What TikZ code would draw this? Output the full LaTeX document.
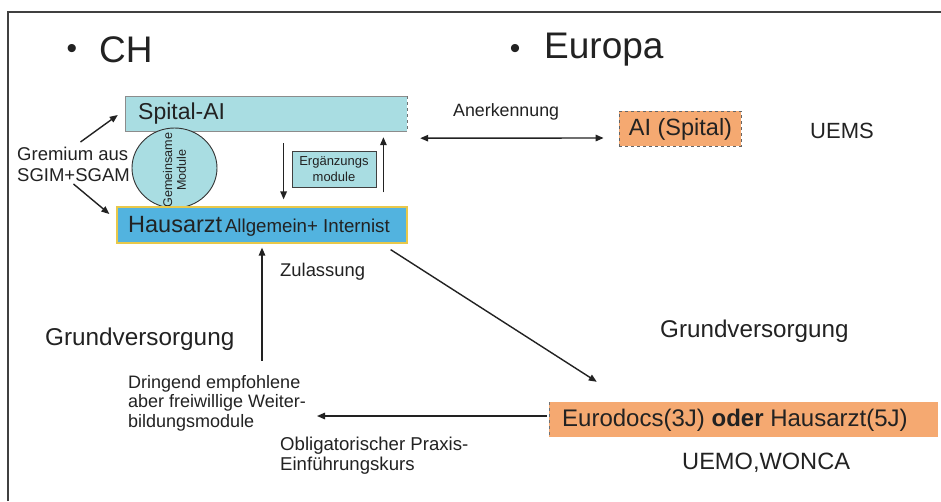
\documentclass[tikz,border=0pt]{standalone}
\usepackage{fontspec}
\setmainfont{Liberation Sans}
\usetikzlibrary{arrows.meta,calc,shapes.geometric}
\definecolor{lcyan}{HTML}{A9DDE2}
\definecolor{mblue}{HTML}{52B3DF}
\definecolor{ybord}{HTML}{E8C84A}
\definecolor{orng}{HTML}{F5A971}
\definecolor{txt}{HTML}{222222}
\newcommand{\fs}[1]{\fontsize{#1}{#1}\selectfont}
\tikzset{
  lbl/.style={inner sep=0pt, text=txt, align=left},
  arr/.style={draw=txt, line width=1.4pt, -{Triangle[length=8pt,width=6.5pt]}},
  dblarr/.style={draw=txt, line width=1.4pt, {Triangle[length=8pt,width=6.5pt]}-{Triangle[length=8pt,width=6.5pt]}},
}
\begin{document}
\begin{tikzpicture}[x=1pt,y=-1pt]
\useasboundingbox (0,0) rectangle (941,501);
\fill[white] (0,0) rectangle (941,501);
% frame
\draw[line width=2pt, draw=black!75] (8,501) -- (8,12) -- (941,12);

% headings
\node[lbl, font=\fs{30}] (b1) at (72,51) {•};
\node[lbl, anchor=west, font=\fs{37}] (ch) at (99,50) {CH};
\node[lbl, font=\fs{30}] (b2) at (515,51) {•};
\node[lbl, anchor=west, font=\fs{37}] (eu) at (544,50) {Europa};

% Spital box
\path[fill=lcyan] (125,96) rectangle (407,131);
\draw[draw=black!45, line width=0.6pt] (407,131) -- (125,131) -- (125,96) -- (407,96);
\draw[draw=black!55, line width=0.8pt, dashed] (407,96) -- (407,131);
\node[draw=none, minimum width=282pt, minimum height=35pt, inner sep=0pt] (spital) at (266,113.5) {};
\node[lbl, anchor=west, font=\fs{23}] (spt) at (138,114) {Spital-AI};

% ellipse
\node[ellipse, draw=black!80, fill=lcyan, line width=0.9pt, minimum width=85pt, minimum height=80pt, inner sep=0pt] (ell) at (174.5,168) {};
\node[lbl, rotate=90, align=center, font=\fs{12.6}] (ellt) at (174.5,170) {Gemeinsame\\[1pt]Module};

% Hausarzt box
\node[draw=ybord, fill=mblue, line width=1.2pt, minimum width=290pt, minimum height=36pt, inner sep=0pt] (haus) at (262,225) {};
\node[lbl, anchor=west] (haust) at (128,226) {{\fs{23.5}Hausarzt} {\fs{18.7}Allgemein+ Internist}};

% Ergaenzungs box
\node[draw=black!75, fill=lcyan, line width=0.8pt, minimum width=84pt, minimum height=36pt, inner sep=0pt, align=center, font=\fs{13}, text=txt] (erg) at (334,169) {Ergänzungs\\[3pt]module};

% gremium
\node[lbl, font=\fs{18.5}, align=left, anchor=west] (grem) at (17,164.5) {Gremium aus\\[2.5pt]SGIM+SGAM};

% AI box
\node[draw=black!60, dashed, fill=orng, line width=0.8pt, minimum width=122pt, minimum height=35pt, inner sep=0pt] (ai) at (680,128.5) {};
\node[lbl, font=\fs{23.5}] (ait) at (680.5,129) {AI (Spital)};
\node[lbl, font=\fs{22}, anchor=west] (uems) at (810,131) {UEMS};
\node[lbl, font=\fs{17.8}, anchor=west] (anerk) at (453,112) {Anerkennung};

% Eurodocs box
\path[fill=orng] (549,402) rectangle (938,437);
\draw[draw=black!55, line width=0.8pt, dashed] (549,402) -- (549,437);
\node[draw=none, minimum width=389pt, minimum height=35pt, inner sep=0pt] (euro) at (743.5,419.5) {};
\node[lbl, anchor=west, font=\fs{24}] (eurot) at (562,420) {Eurodocs(3J) \textbf{oder} Hausarzt(5J)};
\node[lbl, anchor=west, font=\fs{23.6}] (uemo) at (682,463) {UEMO,WONCA};

% other labels
\node[lbl, anchor=west, font=\fs{18.4}] (zul) at (280,272) {Zulassung};
\node[lbl, anchor=west, font=\fs{24.3}] (gv1) at (45,339) {Grundversorgung};
\node[lbl, anchor=west, font=\fs{24.2}] (gv2) at (660,331) {Grundversorgung};
\node[lbl, anchor=west, font=\fs{18}, align=left] (dring) at (128,403) {Dringend empfohlene\\[1.5pt]aber freiwillige Weiter-\\[1.5pt]bildungsmodule};
\node[lbl, anchor=west, font=\fs{18.6}, align=left] (oblig) at (280,456) {Obligatorischer Praxis-\\[1.5pt]Einführungskurs};

% connectors
\draw[arr] ([xshift=7pt,yshift=5pt]grem.north) -- ([xshift=-7pt,yshift=-1.5pt]spital.west);
\draw[arr] ([xshift=0pt,yshift=-2pt]grem.south) -- ([xshift=-7pt,yshift=11pt]haus.west);
\draw[arr] ([xshift=-8pt,yshift=-12pt]spital.south -| erg.west) -- ([xshift=-8pt,yshift=7pt]haus.north -| erg.west);
\draw[arr] ([xshift=7pt,yshift=14pt]haus.north -| erg.east) -- ([xshift=7pt,yshift=-6pt]spital.south -| erg.east);
\draw[dblarr] ([xshift=13pt,yshift=-7pt]spital.south east) -- ([xshift=-15pt,yshift=-9.5pt]ai.west);
\draw[arr] ([yshift=-117pt]haus.south) -- ([yshift=-4pt]haus.south);
\draw[arr] ([xshift=-17pt,yshift=-6pt]haus.south east) -- ([xshift=48pt,yshift=20pt]euro.north west);
\draw[arr] ([xshift=-2pt,yshift=3.5pt]euro.west) -- (317,416);
\end{tikzpicture}
\end{document}
